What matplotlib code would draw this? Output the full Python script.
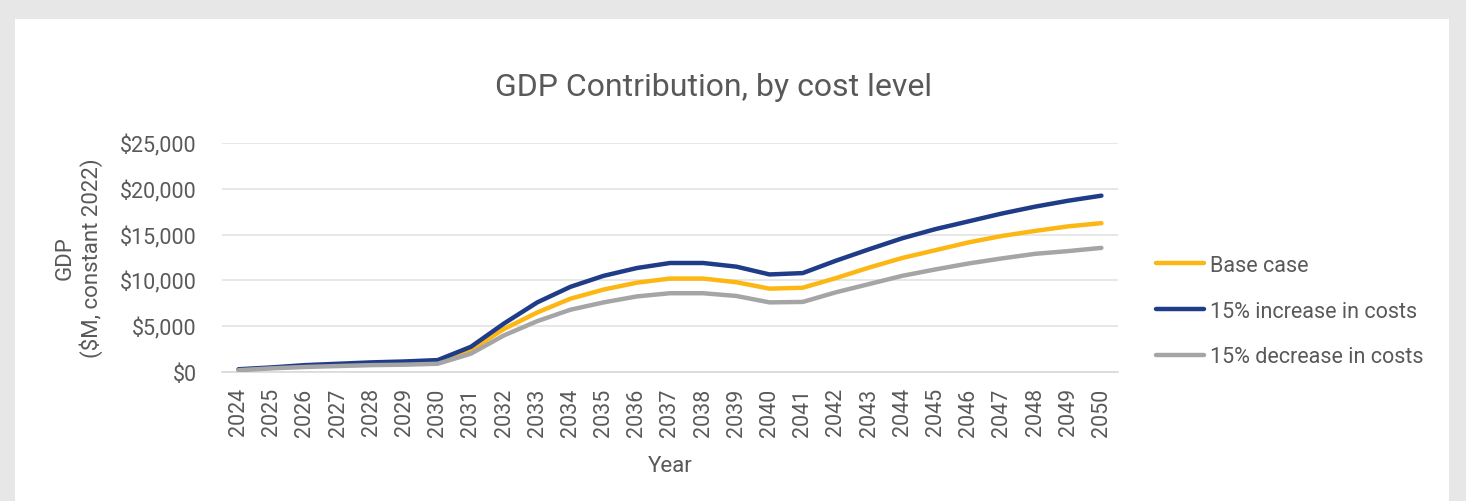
import matplotlib
matplotlib.use('Agg')
import matplotlib.pyplot as plt
from matplotlib.patches import Rectangle
from matplotlib.ticker import FuncFormatter

years = list(range(2024, 2051))

base_case = [250, 450, 650, 800, 900, 1000, 1100, 2400, 4700, 6500, 8000, 9000, 9750, 10200,
             10200, 9800, 9100, 9200, 10250, 11400, 12450, 13300, 14150, 14850, 15400, 15900, 16250]
cost_up = [300, 500, 750, 900, 1050, 1150, 1300, 2750, 5300, 7600, 9300, 10500, 11350, 11900,
           11900, 11500, 10650, 10800, 12150, 13400, 14600, 15600, 16450, 17300, 18050, 18700, 19250]
cost_down = [200, 400, 550, 650, 750, 800, 900, 2000, 4000, 5550, 6800, 7600, 8250, 8600,
             8600, 8300, 7600, 7650, 8700, 9600, 10500, 11200, 11850, 12400, 12900, 13200, 13550]

series_names = ['Base case', '15% increase in costs', '15% decrease in costs']
series_colors = ['#FDB714', '#1F3C88', '#A5A5A5']

text_color = '#595959'
plt.rcParams['font.family'] = ['Roboto', 'DejaVu Sans']

fig = plt.figure(figsize=(14.66, 5.02), dpi=100)
fig.patch.set_facecolor('#E7E7E7')
# white card inside the grey frame
fig.patches.append(Rectangle((15 / 1466, 0), 1434 / 1466, 482 / 502, transform=fig.transFigure,
                             facecolor='white', edgecolor='none', zorder=-1))

ax = fig.add_axes([222 / 1466, 1 - 373 / 502, (1118 - 222) / 1466, (373 - 144) / 502])
ax.set_facecolor('none')

for vals, name, col in zip([base_case, cost_up, cost_down], series_names, series_colors):
    ax.plot(years, vals, color=col, lw=3.2, label=name, solid_capstyle='round',
            solid_joinstyle='round', zorder=3)

ax.set_ylim(0, 25000)
ax.set_xlim(2023.5, 2050.5)
ax.set_yticks(range(0, 25001, 5000))
ax.yaxis.set_major_formatter(FuncFormatter(lambda v, p: '${:,.0f}'.format(v)))
ax.set_xticks(years)
ax.set_xticklabels([str(y) for y in years], rotation=90)
ax.grid(axis='y', color='#E3E3E3', lw=1.2, zorder=0)
for s in ['top', 'right', 'left']:
    ax.spines[s].set_visible(False)
ax.spines['bottom'].set_color('#D9D9D9')
ax.spines['bottom'].set_linewidth(1.2)
ax.tick_params(axis='both', length=0, labelsize=15.5, labelcolor=text_color)
ax.tick_params(axis='y', pad=18)
ax.tick_params(axis='x', pad=11)

ax.set_xlabel('Year', fontsize=16, color=text_color, labelpad=14)
ax.set_ylabel('GDP\n($M, constant 2022)', fontsize=16, color=text_color, labelpad=12,
              linespacing=1.25)

fig.text(714 / 1466, 1 - 88 / 502, 'GDP Contribution, by cost level', ha='center', va='center',
         fontsize=23, color=text_color)

leg = fig.legend(loc='center left', bbox_to_anchor=(1137 / 1466, 1 - 312 / 502), frameon=False,
                 fontsize=15.5, handlelength=2.2, handletextpad=0.3, labelspacing=1.15,
                 labelcolor=text_color)
for h in leg.get_lines():
    h.set_linewidth(3.2)

fig.savefig('out.png', dpi=100, facecolor=fig.get_facecolor())
